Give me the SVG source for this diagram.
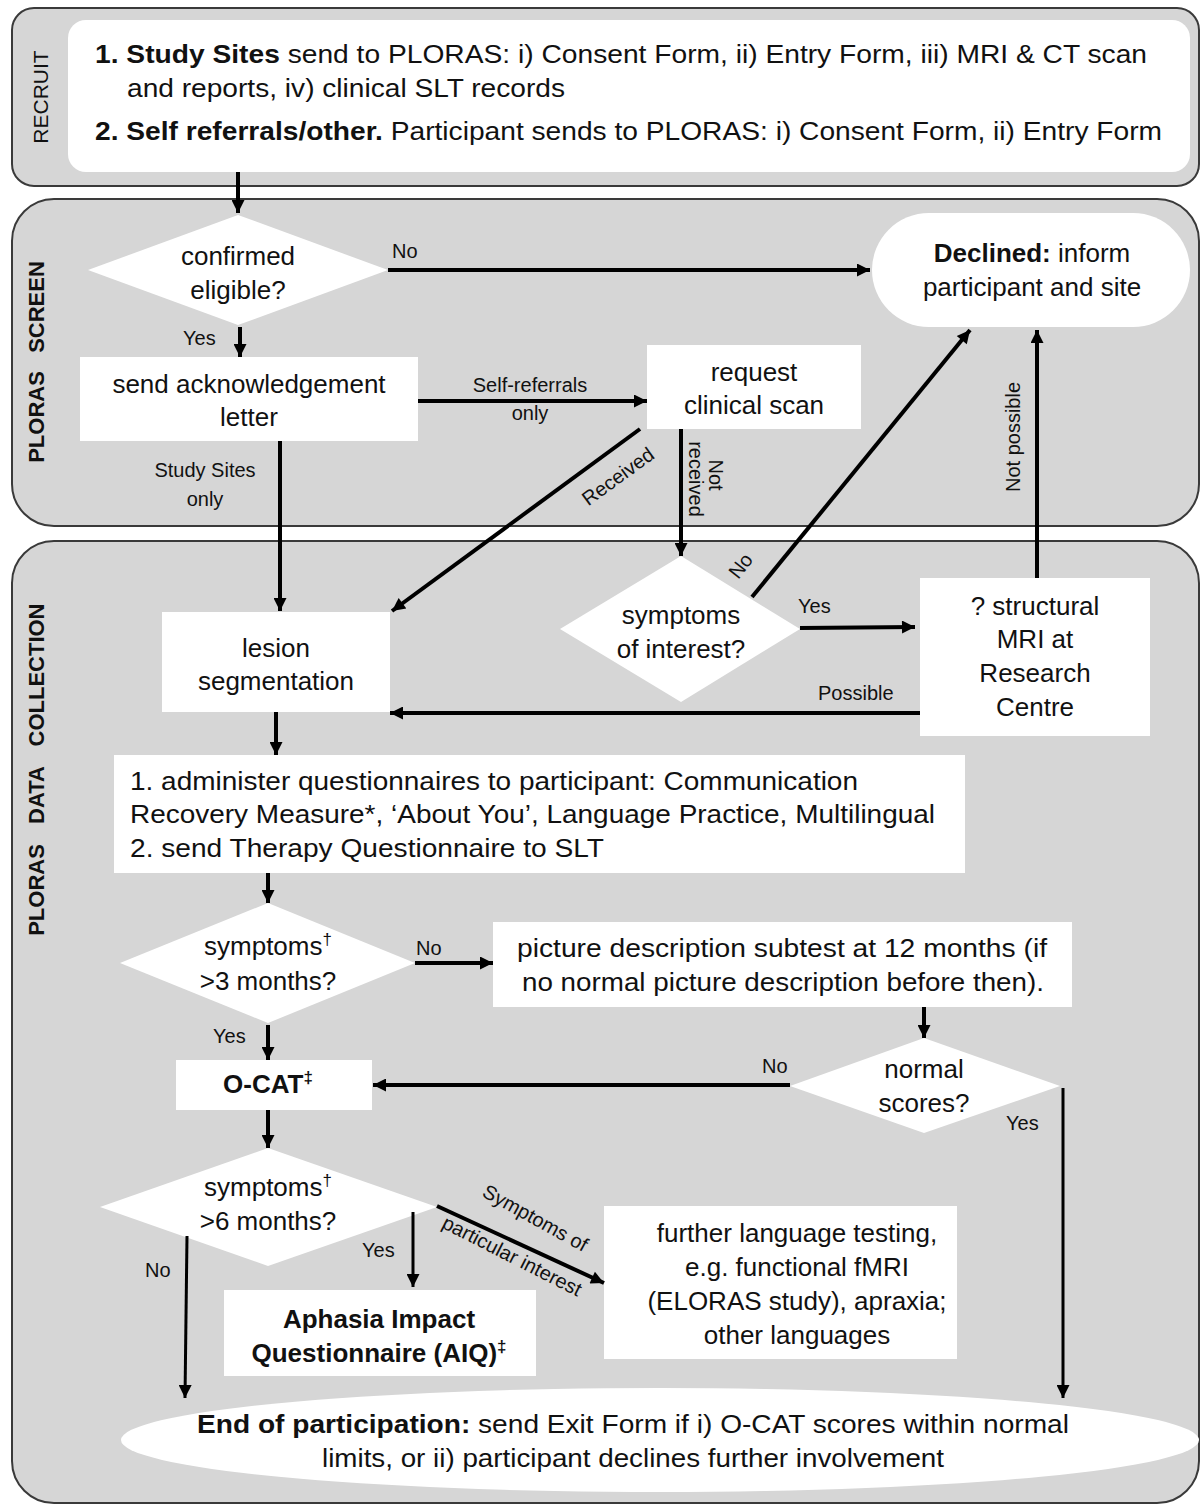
<svg xmlns="http://www.w3.org/2000/svg" width="1201" height="1506" viewBox="0 0 1201 1506">
<style>
.lane{fill:#d6d6d6;stroke:#3a3a3a;stroke-width:2}
.box{fill:#ffffff;stroke:none}
text{font-family:"Liberation Sans",Arial,sans-serif;fill:#111}
.t{font-size:26px}
.tc{font-size:26px;text-anchor:middle}
.lb{font-size:20px}
.lbc{font-size:20px;text-anchor:middle}
.ln{font-size:22px;font-weight:bold;text-anchor:middle}
.b{font-weight:bold}
.c{stroke:#000;stroke-width:4;fill:none}
.c3{stroke:#000;stroke-width:3;fill:none}
</style>
<defs>
<marker id="ah" viewBox="0 0 10 10" refX="10" refY="5" markerWidth="15" markerHeight="13" markerUnits="userSpaceOnUse" orient="auto">
<path d="M0,0 L10,5 L0,10 z" fill="#000"/>
</marker>
</defs>

<g id="lanes">
<rect class="lane" x="12" y="8" width="1187" height="178" rx="22"/>
<rect class="lane" x="12" y="199" width="1187" height="327" rx="42"/>
<rect class="lane" x="12" y="541" width="1187" height="962" rx="42"/>
<text class="lbc" transform="translate(48,97) rotate(-90)" style="font-size:21px">RECRUIT</text>
<text class="ln" transform="translate(44,307) rotate(-90)">SCREEN</text>
<text class="ln" transform="translate(44,417) rotate(-90)">PLORAS</text>
<text class="ln" transform="translate(44,675) rotate(-90)">COLLECTION</text>
<text class="ln" transform="translate(44,795) rotate(-90)">DATA</text>
<text class="ln" transform="translate(44,890) rotate(-90)">PLORAS</text>
</g>

<g id="recruit">
<rect class="box" x="68" y="20" width="1122" height="152" rx="18"/>
<text class="t" x="95" y="63" textLength="1052" lengthAdjust="spacingAndGlyphs"><tspan class="b">1. Study Sites</tspan> send to PLORAS: i) Consent Form, ii) Entry Form, iii) MRI &amp; CT scan</text>
<text class="t" x="127" y="97" textLength="438" lengthAdjust="spacingAndGlyphs">and reports, iv) clinical SLT records</text>
<text class="t" x="95" y="140" textLength="1067" lengthAdjust="spacingAndGlyphs"><tspan class="b">2. Self referrals/other.</tspan> Participant sends to PLORAS: i) Consent Form, ii) Entry Form</text>
</g>

<g id="eligible">
<polygon class="box" points="238,215 388,270 238,325 88,270"/>
<text class="tc" x="238" y="265">confirmed</text>
<text class="tc" x="238" y="299">eligible?</text>
</g>

<g id="declined">
<rect class="box" x="872" y="213" width="318" height="114" rx="57"/>
<text class="tc" x="1032" y="262"><tspan class="b">Declined:</tspan> inform</text>
<text class="tc" x="1032" y="296">participant and site</text>
</g>

<g id="ack">
<rect class="box" x="80" y="357" width="338" height="84"/>
<text class="tc" x="249" y="393">send acknowledgement</text>
<text class="tc" x="249" y="426">letter</text>
</g>

<g id="request">
<rect class="box" x="647" y="345" width="214" height="84"/>
<text class="tc" x="754" y="381">request</text>
<text class="tc" x="754" y="414">clinical scan</text>
</g>

<g id="lesion">
<rect class="box" x="162" y="612" width="228" height="100"/>
<text class="tc" x="276" y="657">lesion</text>
<text class="tc" x="276" y="690">segmentation</text>
</g>

<g id="interest">
<polygon class="box" points="681,556 800,629 681,702 560,629"/>
<text class="tc" x="681" y="624">symptoms</text>
<text class="tc" x="681" y="658">of interest?</text>
</g>

<g id="mri">
<rect class="box" x="920" y="578" width="230" height="158"/>
<text class="tc" x="1035" y="615">? structural</text>
<text class="tc" x="1035" y="648">MRI  at</text>
<text class="tc" x="1035" y="682">Research</text>
<text class="tc" x="1035" y="716">Centre</text>
</g>

<g id="questionnaires">
<rect class="box" x="114" y="755" width="851" height="118"/>
<text class="t" x="130" y="790" textLength="728" lengthAdjust="spacingAndGlyphs">1. administer questionnaires to participant: Communication</text>
<text class="t" x="130" y="823" textLength="805" lengthAdjust="spacingAndGlyphs">Recovery Measure*, ‘About You’, Language Practice, Multilingual</text>
<text class="t" x="130" y="857" textLength="474" lengthAdjust="spacingAndGlyphs">2. send Therapy Questionnaire to SLT</text>
</g>

<g id="sym3">
<polygon class="box" points="268,903 415,963 268,1023 120,963"/>
<text class="tc" x="268" y="955">symptoms<tspan dy="-10" style="font-size:17px">†</tspan></text>
<text class="tc" x="268" y="990">&gt;3 months?</text>
</g>

<g id="picture">
<rect class="box" x="493" y="922" width="579" height="85"/>
<text class="t" x="517" y="957" textLength="530" lengthAdjust="spacingAndGlyphs">picture description subtest at 12 months (if</text>
<text class="t" x="522" y="991" textLength="522" lengthAdjust="spacingAndGlyphs">no normal picture description before then).</text>
</g>

<g id="normal">
<polygon class="box" points="924,1038 1060,1086 924,1133 790,1086"/>
<text class="tc" x="924" y="1078">normal</text>
<text class="tc" x="924" y="1112">scores?</text>
</g>

<g id="ocat">
<rect class="box" x="176" y="1060" width="196" height="50"/>
<text class="tc b" x="268" y="1093">O-CAT<tspan dy="-10" style="font-size:17px">‡</tspan></text>
</g>

<g id="sym6">
<polygon class="box" points="268,1148 437,1207 268,1266 100,1207"/>
<text class="tc" x="268" y="1196">symptoms<tspan dy="-10" style="font-size:17px">†</tspan></text>
<text class="tc" x="268" y="1230">&gt;6 months?</text>
</g>

<g id="aiq">
<rect class="box" x="224" y="1290" width="312" height="86"/>
<text class="tc b" x="379" y="1328">Aphasia Impact</text>
<text class="tc b" x="379" y="1362">Questionnaire (AIQ)<tspan dy="-10" style="font-size:17px">‡</tspan></text>
</g>

<g id="further">
<rect class="box" x="604" y="1206" width="353" height="153"/>
<text class="tc" x="797" y="1242">further  language testing,</text>
<text class="tc" x="797" y="1276">e.g. functional  fMRI</text>
<text class="tc" x="797" y="1310">(ELORAS study), apraxia;</text>
<text class="tc" x="797" y="1344">other  languages</text>
</g>

<g id="end">
<ellipse class="box" cx="660" cy="1440" rx="539" ry="52"/>
<text class="t" x="197" y="1433" textLength="872" lengthAdjust="spacingAndGlyphs"><tspan class="b">End of participation:</tspan> send Exit Form if i) O-CAT scores within normal</text>
<text class="t" x="322" y="1467" textLength="622" lengthAdjust="spacingAndGlyphs">limits, or ii) participant declines further involvement</text>
</g>

<g id="connectors">
<line class="c" x1="238" y1="172" x2="238" y2="213" marker-end="url(#ah)"/>
<line class="c" x1="388" y1="270" x2="870" y2="270" marker-end="url(#ah)"/>
<text class="lb" x="392" y="258">No</text>
<line class="c" x1="240" y1="327" x2="240" y2="357" marker-end="url(#ah)"/>
<text class="lb" x="183" y="345">Yes</text>
<line class="c" x1="418" y1="401" x2="647" y2="401" marker-end="url(#ah)"/>
<text class="lbc" x="530" y="392">Self-referrals</text>
<text class="lbc" x="530" y="420">only</text>
<line class="c" x1="280" y1="441" x2="280" y2="611" marker-end="url(#ah)"/>
<text class="lbc" x="205" y="477">Study Sites</text>
<text class="lbc" x="205" y="506">only</text>
<line class="c" x1="640" y1="429" x2="392" y2="611" marker-end="url(#ah)"/>
<text class="lbc" transform="translate(622,482) rotate(-36)">Received</text>
<line class="c" x1="681" y1="429" x2="681" y2="556" marker-end="url(#ah)"/>
<text class="lbc" transform="translate(709,475) rotate(90)">Not</text>
<text class="lbc" transform="translate(689,479) rotate(90)">received</text>
<line class="c" x1="752" y1="597" x2="970" y2="330" marker-end="url(#ah)"/>
<text class="lbc" transform="translate(746,570) rotate(-52)">No</text>
<line class="c" x1="800" y1="628" x2="915" y2="627" marker-end="url(#ah)"/>
<text class="lb" x="798" y="613">Yes</text>
<line class="c" x1="1037" y1="578" x2="1037" y2="330" marker-end="url(#ah)"/>
<text class="lbc" transform="translate(1020,437) rotate(-90)">Not possible</text>
<line class="c" x1="920" y1="713" x2="390" y2="713" marker-end="url(#ah)"/>
<text class="lb" x="818" y="700">Possible</text>
<line class="c" x1="276" y1="712" x2="276" y2="755" marker-end="url(#ah)"/>
<line class="c" x1="268" y1="873" x2="268" y2="903" marker-end="url(#ah)"/>
<line class="c" x1="415" y1="963" x2="493" y2="963" marker-end="url(#ah)"/>
<text class="lb" x="416" y="955">No</text>
<line class="c" x1="268" y1="1025" x2="268" y2="1060" marker-end="url(#ah)"/>
<text class="lb" x="213" y="1043">Yes</text>
<line class="c" x1="924" y1="1007" x2="924" y2="1038" marker-end="url(#ah)"/>
<line class="c" x1="790" y1="1085" x2="373" y2="1085" marker-end="url(#ah)"/>
<text class="lb" x="762" y="1073">No</text>
<line class="c3" x1="1063" y1="1088" x2="1063" y2="1398" marker-end="url(#ah)"/>
<text class="lb" x="1006" y="1130">Yes</text>
<line class="c" x1="268" y1="1110" x2="268" y2="1148" marker-end="url(#ah)"/>
<line class="c3" x1="187" y1="1236" x2="185" y2="1398" marker-end="url(#ah)"/>
<text class="lb" x="145" y="1277">No</text>
<line class="c3" x1="413" y1="1212" x2="413" y2="1287" marker-end="url(#ah)"/>
<text class="lb" x="362" y="1257">Yes</text>
<line class="c" x1="437" y1="1206" x2="604" y2="1283" marker-end="url(#ah)"/>
<text class="lbc" transform="translate(532,1224) rotate(29)">Symptoms of</text>
<text class="lbc" transform="translate(509,1262) rotate(27)">particular interest</text>
</g>
</svg>
